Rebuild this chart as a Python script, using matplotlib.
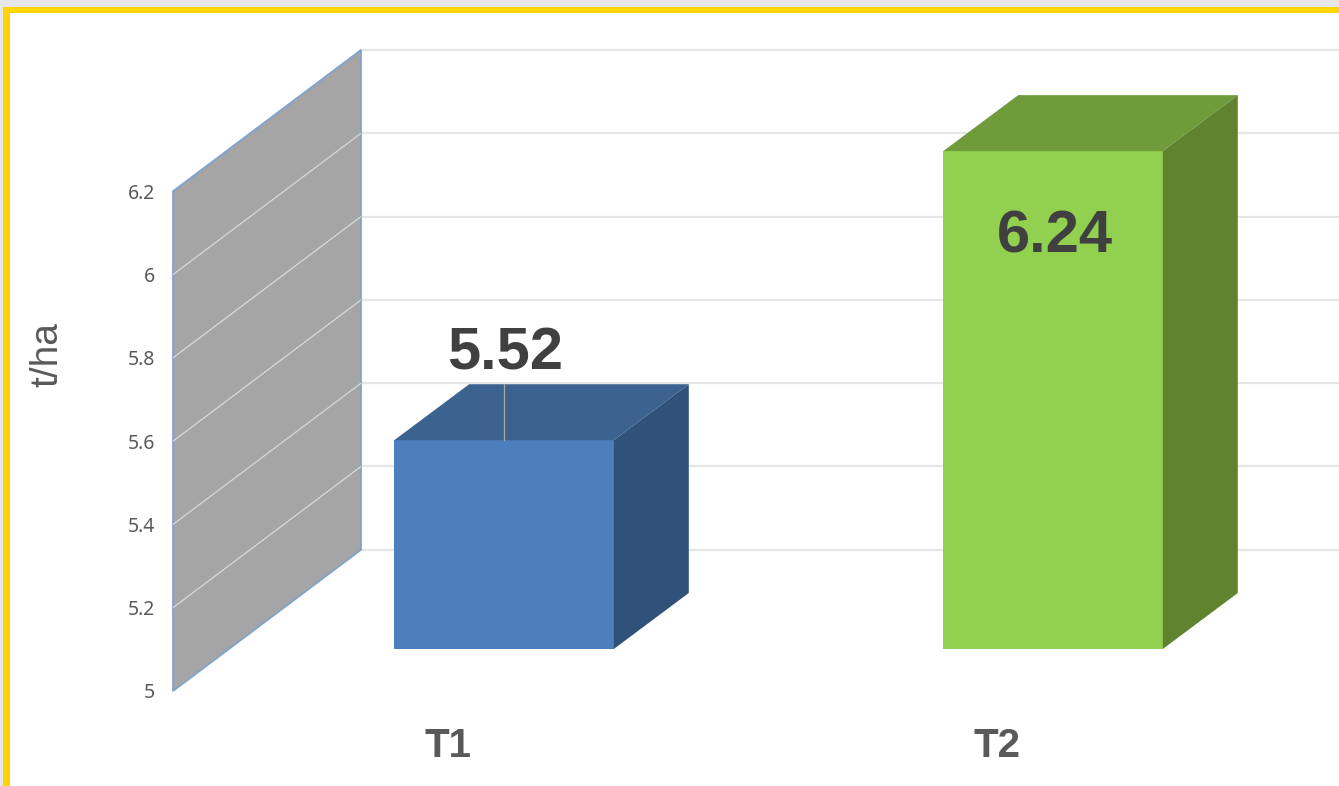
import numpy as np
import matplotlib
matplotlib.use("Agg")
import matplotlib.pyplot as plt
from matplotlib.patches import Polygon, Rectangle

categories = ["T1", "T2"]
values = [5.52, 6.24]
value_labels = ["5.52", "6.24"]
wall_ticks = [5, 5.2, 5.4, 5.6, 5.8, 6, 6.2]
wall_tick_labels = ["5", "5.2", "5.4", "5.6", "5.8", "6", "6.2"]

W, H = 1339, 786
front_colors = ["#4E7FBD", "#92D14F"]
top_colors = ["#3C6290", "#6F9B3B"]
side_colors = ["#30527A", "#5F832F"]
label_offsets = [(1, 62), (1.5, -62)]  # points, from the front top edge of the bar

fig = plt.figure(figsize=(W / 100, H / 100), dpi=100, facecolor="#E6E6E6")
fig.add_artist(Rectangle((3 / W, 0), 1, 1 - 7 / H, transform=fig.transFigure, fc="#FFD400", ec="none", zorder=-2))
fig.add_artist(Rectangle((10 / W, 0), 1, 1 - 13 / H, transform=fig.transFigure, fc="white", ec="none", zorder=-1))


def px_axes(left, top, right, bottom):
    return fig.add_axes([left / W, 1 - bottom / H, (right - left) / W, (bottom - top) / H])


# side wall, sheared back with the depth of the chart
depth = 141 / 415.8
ax_wall = px_axes(173, 50, 361, 691)
ax_wall.set_xlim(0, 1)
ax_wall.set_ylim(wall_ticks[0], wall_ticks[-1] + depth)
ax_wall.patch.set_visible(False)
for s in ax_wall.spines.values():
    s.set_visible(False)
ax_wall.add_patch(Polygon([(0, wall_ticks[0]), (1, wall_ticks[0] + depth),
                           (1, wall_ticks[-1] + depth), (0, wall_ticks[-1])],
                          fc="#A5A5A5", ec="#7FA3CF", lw=1.3, clip_on=False, zorder=1))
for v in wall_ticks:
    ax_wall.plot([1, 6.3], [v + depth, v + depth], color="#E6E6E6", lw=1.6, clip_on=False, zorder=0)
for v in wall_ticks[1:-1]:
    ax_wall.plot([0, 1], [v, v + depth], color="#D9D9D9", lw=0.9, zorder=2)
ax_wall.set_xticks([])
ax_wall.set_yticks(wall_ticks)
ax_wall.set_yticklabels(wall_tick_labels, fontsize=14, family="Noto Sans", color="#595959")
ax_wall.tick_params(axis="y", length=0, pad=13)
ax_wall.set_ylabel("t/ha", fontsize=28, family="Liberation Sans", color="#595959", va="center")
ax_wall.yaxis.set_label_coords((47 - 173) / 188, (691 - 355) / 641)

# bars on a slightly different scale than the wall (perspective)
ax = px_axes(0, 0, W, H)
ax.set_xlim(-504 / 549, (W - 504) / 549)
ax.set_ylim(5 - (H - 649) / 401.5, 5 + 649 / 401.5)
ax.axis("off")
ax.patch.set_visible(False)

x = np.arange(len(categories))
bar_w = 0.4
dx = 75 / 549
dy = 56 / 401.5
ax.bar(x, np.array(values) - 5, bottom=5, width=bar_w, color=front_colors, zorder=3)
for i, v in enumerate(values):
    l, r = x[i] - bar_w / 2, x[i] + bar_w / 2
    ax.add_patch(Polygon([(l, v), (r, v), (r + dx, v + dy), (l + dx, v + dy)], fc=top_colors[i], ec="none", zorder=3))
    ax.add_patch(Polygon([(r, 5), (r + dx, 5 + dy), (r + dx, v + dy), (r, v)], fc=side_colors[i], ec="none", zorder=3))
    ax.annotate(value_labels[i], (x[i], v), xytext=label_offsets[i], textcoords="offset points",
                ha="center", va="center", fontsize=43, fontweight="bold", family="Liberation Sans",
                color="#404040", zorder=5)
    ax.text(x[i] - 0.102, 5 - 97 / 401.5, categories[i], ha="center", va="center", fontsize=29,
            fontweight="bold", family="Liberation Sans", color="#595959")

# leader line of the first label
ax.plot([x[0], x[0]], [values[0], values[0] + dy], color="#A6A6A6", lw=0.9, zorder=4)

fig.savefig("out.png", dpi=100, facecolor=fig.get_facecolor())
